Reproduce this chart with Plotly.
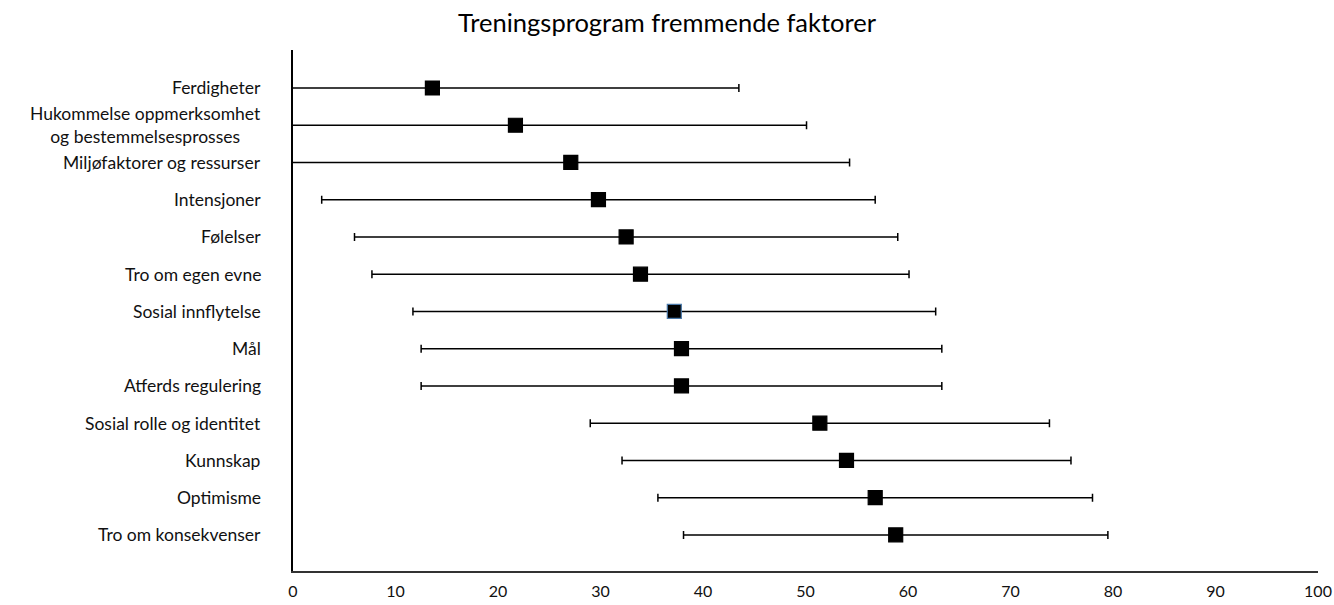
import plotly.graph_objects as go

# Factor names (top to bottom), mean scores and standard deviations
factors = [
    "Ferdigheter",
    "Hukommelse oppmerksomhet<br>og bestemmelsesprosses",
    "Miljøfaktorer og ressurser",
    "Intensjoner",
    "Følelser",
    "Tro om egen evne",
    "Sosial innflytelse",
    "Mål",
    "Atferds regulering",
    "Sosial rolle og identitet",
    "Kunnskap",
    "Optimisme",
    "Tro om konsekvenser",
]
means = [13.6, 21.7, 27.1, 29.8, 32.5, 33.9, 37.2, 37.9, 37.9, 51.4, 54.0, 56.8, 58.8]
sds = [29.9, 28.4, 27.2, 27.0, 26.5, 26.2, 25.5, 25.4, 25.4, 22.4, 21.9, 21.2, 20.7]
x_ticks = list(range(0, 101, 10))

FONT = "Lato, 'Open Sans', sans-serif"

marker_lines = ["#4a78a8" if f == "Sosial innflytelse" else "black" for f in factors]

fig = go.Figure()
fig.add_trace(go.Scatter(
    x=means,
    y=factors,
    mode="markers",
    marker=dict(symbol="square", size=14, color="black",
                line=dict(color=marker_lines, width=1.2)),
    error_x=dict(type="data", array=sds, symmetric=True,
                 color="black", thickness=1.5, width=4),
    cliponaxis=True,
    showlegend=False,
))

# Category labels to the left of the vertical axis
for f in factors:
    fig.add_annotation(
        x=0, xref="paper", y=f, yref="y",
        text=f, showarrow=False, xanchor="right", align="center",
        xshift=-30, font=dict(family=FONT, size=17.5, color="#111"),
    )

fig.update_layout(
    width=1334, height=605,
    margin=dict(l=293, r=16, t=50, b=34),
    paper_bgcolor="white", plot_bgcolor="white",
    title=dict(text="Treningsprogram fremmende faktorer", x=0.5, xanchor="center",
               y=0.962, yanchor="middle",
               font=dict(family=FONT, size=25.5, color="black")),
    font=dict(family=FONT, color="black"),
    xaxis=dict(range=[0, 100], tickvals=x_ticks, ticks="outside", ticklen=5,
               tickcolor="rgba(0,0,0,0)", showgrid=False, zeroline=False,
               showline=True, linecolor="#333", linewidth=2, automargin=False,
               tickfont=dict(family=FONT, size=16, color="#111"), fixedrange=True),
    yaxis=dict(type="category", categoryorder="array", categoryarray=factors,
               range=[12.97, -1.02], showticklabels=False, ticks="",
               showgrid=False, zeroline=False, automargin=False,
               showline=True, linecolor="black", linewidth=1.5),
)

fig.write_html("out.html")
